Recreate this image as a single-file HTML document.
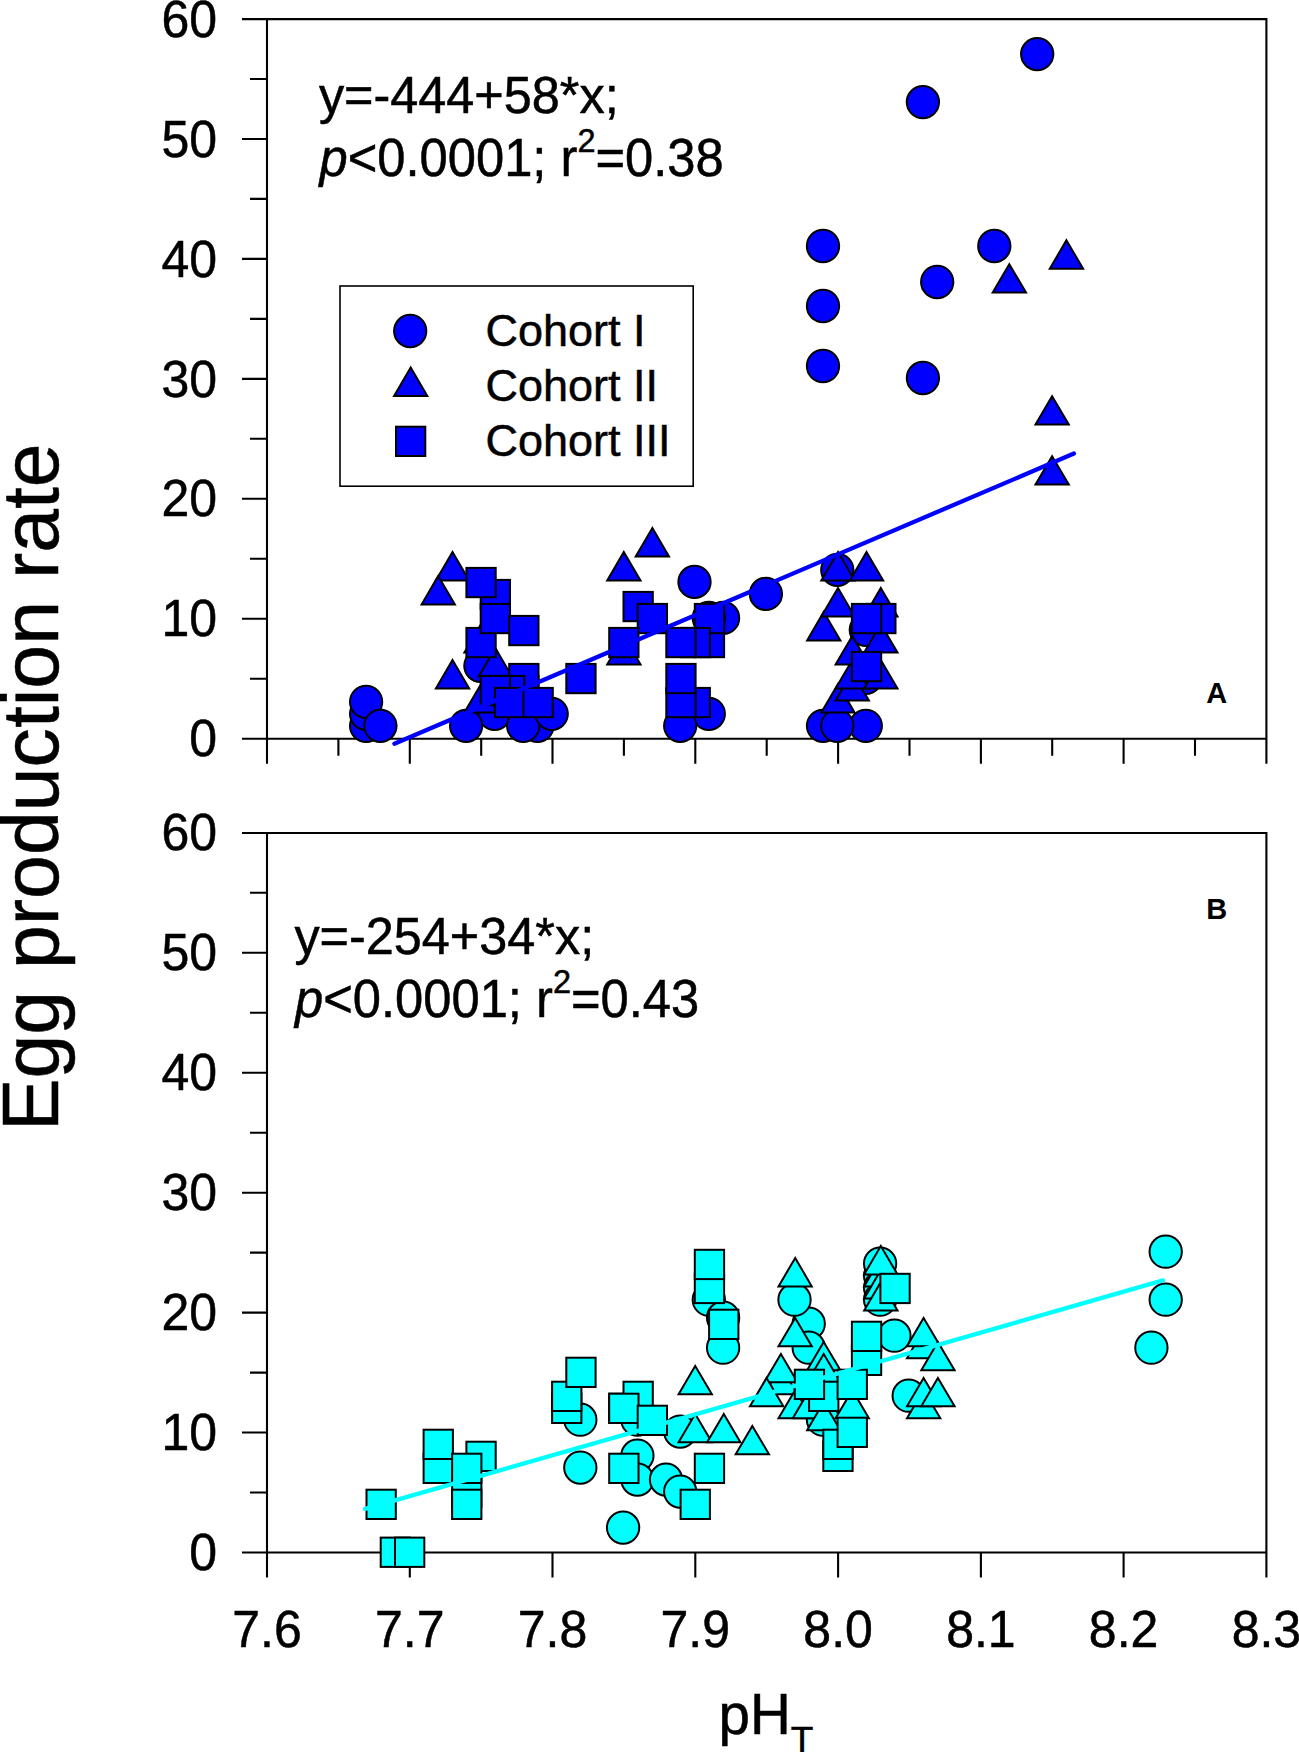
<!DOCTYPE html>
<html lang="en"><head><meta charset="utf-8"><title>Egg production rate vs pH</title>
<style>html,body{margin:0;padding:0;background:#fff}svg{display:block}text{font-family:"Liberation Sans",sans-serif;fill:#000}</style></head><body>
<svg width="1299" height="1752" viewBox="0 0 1299 1752">
<rect width="1299" height="1752" fill="#fff"/>
<g stroke="#000" stroke-width="2.1" fill="none" stroke-linecap="butt">
<path d="M242.0 19.1H1266.4V763.7"/>
<path d="M267.0 18.05V763.7"/>
<path d="M242.0 738.7H1266.4"/>
<path d="M250.0 678.7H267.0M242.0 618.8H267.0M250.0 558.8H267.0M242.0 498.8H267.0M250.0 438.8H267.0M242.0 378.9H267.0M250.0 318.9H267.0M242.0 258.9H267.0M250.0 198.9H267.0M242.0 139.0H267.0M250.0 79.0H267.0M338.4 738.7V755.7M409.8 738.7V763.7M481.2 738.7V755.7M552.5 738.7V763.7M623.9 738.7V755.7M695.3 738.7V763.7M766.7 738.7V755.7M838.1 738.7V763.7M909.5 738.7V755.7M980.9 738.7V763.7M1052.2 738.7V755.7M1123.6 738.7V763.7M1195.0 738.7V755.7"/>
</g>
<g stroke="#000" stroke-width="2.1" fill="none" stroke-linecap="butt">
<path d="M242.0 833.0H1266.4V1577.5"/>
<path d="M267.0 831.95V1577.5"/>
<path d="M242.0 1552.5H1266.4"/>
<path d="M250.0 1492.5H267.0M242.0 1432.5H267.0M250.0 1372.6H267.0M242.0 1312.6H267.0M250.0 1252.6H267.0M242.0 1192.7H267.0M250.0 1132.7H267.0M242.0 1072.7H267.0M250.0 1012.7H267.0M242.0 952.8H267.0M250.0 892.8H267.0M409.8 1552.5V1577.5M552.5 1552.5V1577.5M695.3 1552.5V1577.5M838.1 1552.5V1577.5M980.9 1552.5V1577.5M1123.6 1552.5V1577.5"/>
</g>
<g stroke="#000" stroke-width="0.5">
<text transform="translate(217.0 756.3) scale(1 1.04)" font-size="50" text-anchor="end">0</text>
<text transform="translate(217.0 636.4) scale(1 1.04)" font-size="50" text-anchor="end">10</text>
<text transform="translate(217.0 516.4) scale(1 1.04)" font-size="50" text-anchor="end">20</text>
<text transform="translate(217.0 396.5) scale(1 1.04)" font-size="50" text-anchor="end">30</text>
<text transform="translate(217.0 276.5) scale(1 1.04)" font-size="50" text-anchor="end">40</text>
<text transform="translate(217.0 156.6) scale(1 1.04)" font-size="50" text-anchor="end">50</text>
<text transform="translate(217.0 36.6) scale(1 1.04)" font-size="50" text-anchor="end">60</text>
<text transform="translate(217.0 1570.1) scale(1 1.04)" font-size="50" text-anchor="end">0</text>
<text transform="translate(217.0 1450.1) scale(1 1.04)" font-size="50" text-anchor="end">10</text>
<text transform="translate(217.0 1330.2) scale(1 1.04)" font-size="50" text-anchor="end">20</text>
<text transform="translate(217.0 1210.2) scale(1 1.04)" font-size="50" text-anchor="end">30</text>
<text transform="translate(217.0 1090.3) scale(1 1.04)" font-size="50" text-anchor="end">40</text>
<text transform="translate(217.0 970.4) scale(1 1.04)" font-size="50" text-anchor="end">50</text>
<text transform="translate(217.0 850.4) scale(1 1.04)" font-size="50" text-anchor="end">60</text>
<text transform="translate(267.0 1647.2) scale(1 1.04)" font-size="50" text-anchor="middle">7.6</text>
<text transform="translate(409.8 1647.2) scale(1 1.04)" font-size="50" text-anchor="middle">7.7</text>
<text transform="translate(552.5 1647.2) scale(1 1.04)" font-size="50" text-anchor="middle">7.8</text>
<text transform="translate(695.3 1647.2) scale(1 1.04)" font-size="50" text-anchor="middle">7.9</text>
<text transform="translate(838.1 1647.2) scale(1 1.04)" font-size="50" text-anchor="middle">8.0</text>
<text transform="translate(980.9 1647.2) scale(1 1.04)" font-size="50" text-anchor="middle">8.1</text>
<text transform="translate(1123.6 1647.2) scale(1 1.04)" font-size="50" text-anchor="middle">8.2</text>
<text transform="translate(1266.4 1647.2) scale(1 1.04)" font-size="50" text-anchor="middle">8.3</text>
<text font-size="78.8" text-anchor="middle" transform="translate(57.7 787.2) rotate(-90)">Egg production rate</text>
<text font-size="56.5" x="718.6" y="1734.3">pH<tspan font-size="37" dy="18.4">T</tspan></text>
<text transform="translate(318.9 112.8) scale(1 1.04)" font-size="50.4" text-anchor="start">y=-444+58*x;</text>
<text transform="translate(319.5 175.8) scale(1 1.04)" font-size="50.7" text-anchor="start"><tspan font-style="italic">p</tspan>&lt;0.0001; r<tspan font-size="32.5" dy="-23">2</tspan><tspan dy="23">=0.38</tspan></text>
<text transform="translate(294.4 954.2) scale(1 1.04)" font-size="50.4" text-anchor="start">y=-254+34*x;</text>
<text transform="translate(295.0 1017.3) scale(1 1.04)" font-size="50.7" text-anchor="start"><tspan font-style="italic">p</tspan>&lt;0.0001; r<tspan font-size="32.5" dy="-23">2</tspan><tspan dy="23">=0.43</tspan></text>
<text transform="translate(1206.3 702.8) scale(1 1.04)" font-size="29" text-anchor="start" font-weight="bold" stroke="none">A</text>
<text transform="translate(1206.3 919.0) scale(1 1.04)" font-size="29" text-anchor="start" font-weight="bold" stroke="none">B</text>
</g>
<rect x="340" y="286" width="353.2" height="200.2" fill="#fff" stroke="#000" stroke-width="1.6"/>
<g fill="#00f" stroke="#000" stroke-width="2.0" stroke-linejoin="miter">
<circle cx="410.2" cy="331.0" r="16.15"/>
<path d="M410.7 367.6L427.3 395.9L394.1 395.9Z"/>
<rect x="396.0" y="426.7" width="29.3" height="29.3"/>
</g>
<g font-size="45" stroke="#000" stroke-width="0.5"><text x="485.5" y="346.4">Cohort I</text><text x="485.5" y="400.9">Cohort II</text><text x="485.5" y="455.7">Cohort III</text></g>
<g fill="#00f" stroke="#000" stroke-width="2.0" stroke-linejoin="miter">
<circle cx="366.1" cy="725.8" r="16.15"/>
<circle cx="366.1" cy="713.8" r="16.15"/>
<circle cx="366.1" cy="701.8" r="16.15"/>
<circle cx="380.4" cy="725.8" r="16.15"/>
<circle cx="494.6" cy="713.8" r="16.15"/>
<circle cx="537.5" cy="725.8" r="16.15"/>
<circle cx="480.4" cy="665.8" r="16.15"/>
<circle cx="466.1" cy="725.8" r="16.15"/>
<circle cx="523.2" cy="725.8" r="16.15"/>
<circle cx="551.7" cy="713.8" r="16.15"/>
<circle cx="694.5" cy="581.9" r="16.15"/>
<circle cx="765.9" cy="593.9" r="16.15"/>
<circle cx="723.1" cy="617.9" r="16.15"/>
<circle cx="708.8" cy="617.9" r="16.15"/>
<circle cx="708.8" cy="713.8" r="16.15"/>
<circle cx="680.2" cy="725.8" r="16.15"/>
<circle cx="823.0" cy="725.8" r="16.15"/>
<circle cx="865.8" cy="725.8" r="16.15"/>
<circle cx="837.3" cy="725.8" r="16.15"/>
<circle cx="837.3" cy="569.9" r="16.15"/>
<circle cx="865.8" cy="629.8" r="16.15"/>
<circle cx="865.8" cy="677.8" r="16.15"/>
<circle cx="1037.2" cy="54.1" r="16.15"/>
<circle cx="922.9" cy="102.1" r="16.15"/>
<circle cx="823.0" cy="246.0" r="16.15"/>
<circle cx="823.0" cy="306.0" r="16.15"/>
<circle cx="823.0" cy="366.0" r="16.15"/>
<circle cx="994.3" cy="246.0" r="16.15"/>
<circle cx="937.2" cy="282.0" r="16.15"/>
<circle cx="922.9" cy="378.0" r="16.15"/>
<path d="M452.5 552.1L469.2 580.5L435.9 580.5Z"/>
<path d="M438.2 576.1L454.9 604.5L421.6 604.5Z"/>
<path d="M452.5 660.1L469.2 688.5L435.9 688.5Z"/>
<path d="M481.1 624.1L497.7 652.5L464.4 652.5Z"/>
<path d="M481.1 684.1L497.7 712.5L464.4 712.5Z"/>
<path d="M495.3 648.1L512.0 676.5L478.7 676.5Z"/>
<path d="M623.8 552.1L640.5 580.5L607.2 580.5Z"/>
<path d="M652.4 528.1L669.0 556.5L635.7 556.5Z"/>
<path d="M623.8 636.1L640.5 664.5L607.2 664.5Z"/>
<path d="M838.0 552.1L854.6 580.5L821.3 580.5Z"/>
<path d="M866.5 552.1L883.2 580.5L849.9 580.5Z"/>
<path d="M823.7 612.1L840.4 640.5L807.1 640.5Z"/>
<path d="M838.0 588.1L854.6 616.5L821.3 616.5Z"/>
<path d="M880.8 588.1L897.5 616.5L864.2 616.5Z"/>
<path d="M838.0 684.1L854.6 712.5L821.3 712.5Z"/>
<path d="M852.3 672.1L868.9 700.5L835.6 700.5Z"/>
<path d="M852.3 660.1L868.9 688.5L835.6 688.5Z"/>
<path d="M880.8 660.1L897.5 688.5L864.2 688.5Z"/>
<path d="M852.3 636.1L868.9 664.5L835.6 664.5Z"/>
<path d="M880.8 624.1L897.5 652.5L864.2 652.5Z"/>
<path d="M1066.4 240.3L1083.1 268.7L1049.8 268.7Z"/>
<path d="M1009.3 264.2L1026.0 292.6L992.7 292.6Z"/>
<path d="M1052.1 396.2L1068.8 424.6L1035.5 424.6Z"/>
<path d="M1052.1 456.2L1068.8 484.6L1035.5 484.6Z"/>
<rect x="480.7" y="579.9" width="29.3" height="29.3"/>
<rect x="466.4" y="567.9" width="29.3" height="29.3"/>
<rect x="466.4" y="627.9" width="29.3" height="29.3"/>
<rect x="480.7" y="603.9" width="29.3" height="29.3"/>
<rect x="509.2" y="615.9" width="29.3" height="29.3"/>
<rect x="509.2" y="675.9" width="29.3" height="29.3"/>
<rect x="509.2" y="663.9" width="29.3" height="29.3"/>
<rect x="495.0" y="675.9" width="29.3" height="29.3"/>
<rect x="480.7" y="675.9" width="29.3" height="29.3"/>
<rect x="495.0" y="687.9" width="29.3" height="29.3"/>
<rect x="523.5" y="687.9" width="29.3" height="29.3"/>
<rect x="566.3" y="663.9" width="29.3" height="29.3"/>
<rect x="623.5" y="591.9" width="29.3" height="29.3"/>
<rect x="637.7" y="603.9" width="29.3" height="29.3"/>
<rect x="609.2" y="627.9" width="29.3" height="29.3"/>
<rect x="694.8" y="627.9" width="29.3" height="29.3"/>
<rect x="694.8" y="603.9" width="29.3" height="29.3"/>
<rect x="680.6" y="627.9" width="29.3" height="29.3"/>
<rect x="666.3" y="627.9" width="29.3" height="29.3"/>
<rect x="680.6" y="687.9" width="29.3" height="29.3"/>
<rect x="666.3" y="687.9" width="29.3" height="29.3"/>
<rect x="666.3" y="663.9" width="29.3" height="29.3"/>
<rect x="866.2" y="603.9" width="29.3" height="29.3"/>
<rect x="851.9" y="603.9" width="29.3" height="29.3"/>
<rect x="851.9" y="651.9" width="29.3" height="29.3"/>
</g>
<path d="M394.4 743.7L1073.9 453.6" stroke="#00f" stroke-width="4.3" stroke-linecap="round" fill="none"/>
<g fill="#0ff" stroke="#000" stroke-width="2.0" stroke-linejoin="miter">
<circle cx="580.3" cy="1419.7" r="16.15"/>
<circle cx="580.3" cy="1467.6" r="16.15"/>
<circle cx="623.1" cy="1527.6" r="16.15"/>
<circle cx="708.8" cy="1299.7" r="16.15"/>
<circle cx="723.1" cy="1317.7" r="16.15"/>
<circle cx="723.1" cy="1347.7" r="16.15"/>
<circle cx="637.4" cy="1455.6" r="16.15"/>
<circle cx="637.4" cy="1479.6" r="16.15"/>
<circle cx="666.0" cy="1479.6" r="16.15"/>
<circle cx="680.2" cy="1491.6" r="16.15"/>
<circle cx="680.2" cy="1431.6" r="16.15"/>
<circle cx="637.4" cy="1419.7" r="16.15"/>
<circle cx="808.7" cy="1323.7" r="16.15"/>
<circle cx="808.7" cy="1347.7" r="16.15"/>
<circle cx="794.5" cy="1299.7" r="16.15"/>
<circle cx="880.1" cy="1275.7" r="16.15"/>
<circle cx="880.1" cy="1287.7" r="16.15"/>
<circle cx="880.1" cy="1299.7" r="16.15"/>
<circle cx="880.1" cy="1263.7" r="16.15"/>
<circle cx="894.4" cy="1335.7" r="16.15"/>
<circle cx="908.7" cy="1395.7" r="16.15"/>
<circle cx="823.0" cy="1419.7" r="16.15"/>
<circle cx="1165.7" cy="1251.7" r="16.15"/>
<circle cx="1165.7" cy="1299.7" r="16.15"/>
<circle cx="1151.4" cy="1347.7" r="16.15"/>
<path d="M695.2 1365.9L711.9 1394.3L678.6 1394.3Z"/>
<path d="M695.2 1413.9L711.9 1442.3L678.6 1442.3Z"/>
<path d="M723.8 1413.9L740.4 1442.3L707.1 1442.3Z"/>
<path d="M752.3 1425.9L769.0 1454.3L735.7 1454.3Z"/>
<path d="M780.9 1365.9L797.5 1394.3L764.2 1394.3Z"/>
<path d="M780.9 1353.9L797.5 1382.3L764.2 1382.3Z"/>
<path d="M766.6 1377.9L783.3 1406.3L750.0 1406.3Z"/>
<path d="M795.2 1389.9L811.8 1418.3L778.5 1418.3Z"/>
<path d="M809.4 1389.9L826.1 1418.3L792.8 1418.3Z"/>
<path d="M795.2 1258.0L811.8 1286.4L778.5 1286.4Z"/>
<path d="M795.2 1317.9L811.8 1346.3L778.5 1346.3Z"/>
<path d="M823.7 1341.9L840.4 1370.3L807.1 1370.3Z"/>
<path d="M823.7 1353.9L840.4 1382.3L807.1 1382.3Z"/>
<path d="M823.7 1401.9L840.4 1430.3L807.1 1430.3Z"/>
<path d="M852.3 1389.9L868.9 1418.3L835.6 1418.3Z"/>
<path d="M880.8 1258.0L897.5 1286.4L864.2 1286.4Z"/>
<path d="M880.8 1270.0L897.5 1298.4L864.2 1298.4Z"/>
<path d="M880.8 1282.0L897.5 1310.4L864.2 1310.4Z"/>
<path d="M880.8 1246.0L897.5 1274.4L864.2 1274.4Z"/>
<path d="M923.6 1329.9L940.3 1358.3L907.0 1358.3Z"/>
<path d="M923.6 1317.9L940.3 1346.3L907.0 1346.3Z"/>
<path d="M937.9 1341.9L954.6 1370.3L921.3 1370.3Z"/>
<path d="M923.6 1389.9L940.3 1418.3L907.0 1418.3Z"/>
<path d="M923.6 1377.9L940.3 1406.3L907.0 1406.3Z"/>
<path d="M937.9 1377.9L954.6 1406.3L921.3 1406.3Z"/>
<rect x="366.5" y="1489.7" width="29.3" height="29.3"/>
<rect x="380.7" y="1537.6" width="29.3" height="29.3"/>
<rect x="395.0" y="1537.6" width="29.3" height="29.3"/>
<rect x="423.6" y="1453.7" width="29.3" height="29.3"/>
<rect x="423.6" y="1429.7" width="29.3" height="29.3"/>
<rect x="466.4" y="1441.7" width="29.3" height="29.3"/>
<rect x="452.1" y="1477.7" width="29.3" height="29.3"/>
<rect x="452.1" y="1453.7" width="29.3" height="29.3"/>
<rect x="452.1" y="1489.7" width="29.3" height="29.3"/>
<rect x="552.1" y="1393.7" width="29.3" height="29.3"/>
<rect x="552.1" y="1381.7" width="29.3" height="29.3"/>
<rect x="566.3" y="1357.7" width="29.3" height="29.3"/>
<rect x="609.2" y="1393.7" width="29.3" height="29.3"/>
<rect x="609.2" y="1453.7" width="29.3" height="29.3"/>
<rect x="694.8" y="1273.8" width="29.3" height="29.3"/>
<rect x="694.8" y="1249.8" width="29.3" height="29.3"/>
<rect x="709.1" y="1309.7" width="29.3" height="29.3"/>
<rect x="623.5" y="1381.7" width="29.3" height="29.3"/>
<rect x="609.2" y="1393.7" width="29.3" height="29.3"/>
<rect x="637.7" y="1405.7" width="29.3" height="29.3"/>
<rect x="694.8" y="1453.7" width="29.3" height="29.3"/>
<rect x="680.6" y="1489.7" width="29.3" height="29.3"/>
<rect x="880.4" y="1273.8" width="29.3" height="29.3"/>
<rect x="851.9" y="1345.7" width="29.3" height="29.3"/>
<rect x="851.9" y="1321.7" width="29.3" height="29.3"/>
<rect x="809.1" y="1381.7" width="29.3" height="29.3"/>
<rect x="794.8" y="1369.7" width="29.3" height="29.3"/>
<rect x="837.6" y="1369.7" width="29.3" height="29.3"/>
<rect x="823.3" y="1441.7" width="29.3" height="29.3"/>
<rect x="823.3" y="1429.7" width="29.3" height="29.3"/>
<rect x="837.6" y="1417.7" width="29.3" height="29.3"/>
</g>
<path d="M365.1 1508.9L1163 1280.4" stroke="#0ff" stroke-width="4.3" stroke-linecap="round" fill="none"/>
</svg></body></html>
